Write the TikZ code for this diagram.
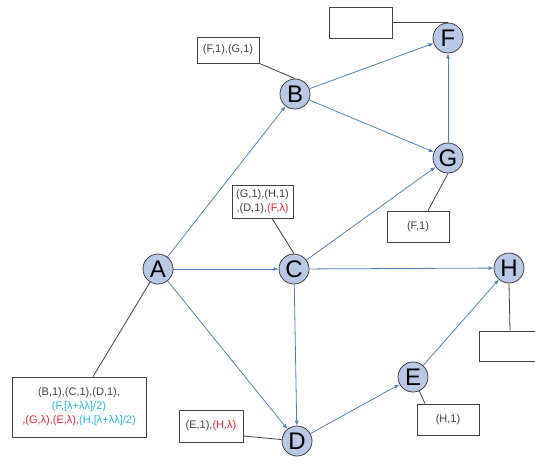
\documentclass[tikz,border=0pt]{standalone}
\usepackage{fontspec}
\setmainfont{Liberation Sans}
\usetikzlibrary{arrows.meta}

\definecolor{noeudbleu}{RGB}{185,201,229}
\definecolor{bordgris}{RGB}{64,64,64}
\definecolor{arcbleu}{RGB}{79,129,189}
\definecolor{rouge}{RGB}{232,40,52}
\definecolor{cyan}{RGB}{38,182,232}

\begin{document}
\begin{tikzpicture}[x=1pt, y=-1pt,
    sommet/.style={circle, draw=bordgris, line width=0.8pt, fill=noeudbleu, minimum size=30pt, inner sep=0pt, font=\fontsize{24}{24}\selectfont},
    arc/.style={-{Latex[length=5pt,width=4pt]}, draw=arcbleu, line width=0.8pt},
    etiquette/.style={rectangle, draw=bordgris, line width=0.8pt, fill=white, inner sep=0pt, align=center, text=bordgris, font=\fontsize{11}{14}\selectfont},
    lien/.style={draw=bordgris, line width=0.8pt}]
    \useasboundingbox (0,0) rectangle (535,464);

    % Définition des sommets du graphe
    \node[sommet] (A) at (158, 269) {A};
    \node[sommet] (B) at (295, 94) {B};
    \node[sommet] (C) at (294, 269) {C};
    \node[sommet] (D) at (297, 441) {D};
    \node[sommet] (E) at (413, 377) {E};
    \node[sommet] (F) at (448, 38) {F};
    \node[sommet] (G) at (448, 158) {G};
    \node[sommet] (H) at (509, 268) {H};

    % Arcs orientés
    \draw[arc] (A) -- (B);
    \draw[arc] (A) -- (C);
    \draw[arc] (A) -- (D);
    \draw[arc] (B) -- (F);
    \draw[arc] (B) -- (G);
    \draw[arc] (C) -- (G);
    \draw[arc] (C) -- (H);
    \draw[arc] (C) -- (D);
    \draw[arc] (D) -- (E);
    \draw[arc] (E) -- (H);
    \draw[arc] (G) -- (F);

    % Étiquettes des sommets
    \node[etiquette, minimum width=134pt, minimum height=60pt] (etiqA) at (79, 407)
        {(B,1),(C,1),(D,1),\\
         \textcolor{cyan}{(F,[λ+λλ]/2)}\\
         \textcolor{rouge}{,(G,λ),(E,λ),}\textcolor{cyan}{(H,[λ+λλ]/2)}};
    \node[etiquette, minimum width=62pt, minimum height=26pt] (etiqB) at (228, 50) {(F,1),(G,1)};
    \node[etiquette, minimum width=61pt, minimum height=33pt] (etiqC) at (262.5, 201.5)
        {(G,1),(H,1)\\,(D,1),\textcolor{rouge}{(F,λ)}};
    \node[etiquette, minimum width=64pt, minimum height=32pt] (etiqD) at (211, 426) {(E,1),\textcolor{rouge}{(H,λ)}};
    \node[etiquette, minimum width=62pt, minimum height=31pt] (etiqE) at (448, 419.5) {(H,1)};
    \node[etiquette, minimum width=63pt, minimum height=31pt] (etiqF) at (360.5, 22.5) {};
    \node[etiquette, minimum width=62pt, minimum height=31pt] (etiqG) at (418, 226.5) {(F,1)};
    \node[etiquette, minimum width=62pt, minimum height=30pt] (etiqH) at (510, 346) {};

    % Liens entre étiquettes et sommets
    \draw[lien] ([xshift=14pt]etiqA.north) -- (A);
    \draw[lien] (etiqB.south east) -- (B.north);
    \draw[lien] ([xshift=9.5pt]etiqC.south) -- (C.north);
    \draw[lien] ([yshift=-10pt]etiqD.east) -- (D);
    \draw[lien] ([xshift=-23pt]etiqE.north) -- (E);
    \draw[lien] (etiqF.east) -- (F.north);
    \draw[lien] ([xshift=10pt]etiqG.north) -- (G.south);
    \draw[lien] (etiqH.north) -- (H.south);

\end{tikzpicture}
\end{document}
